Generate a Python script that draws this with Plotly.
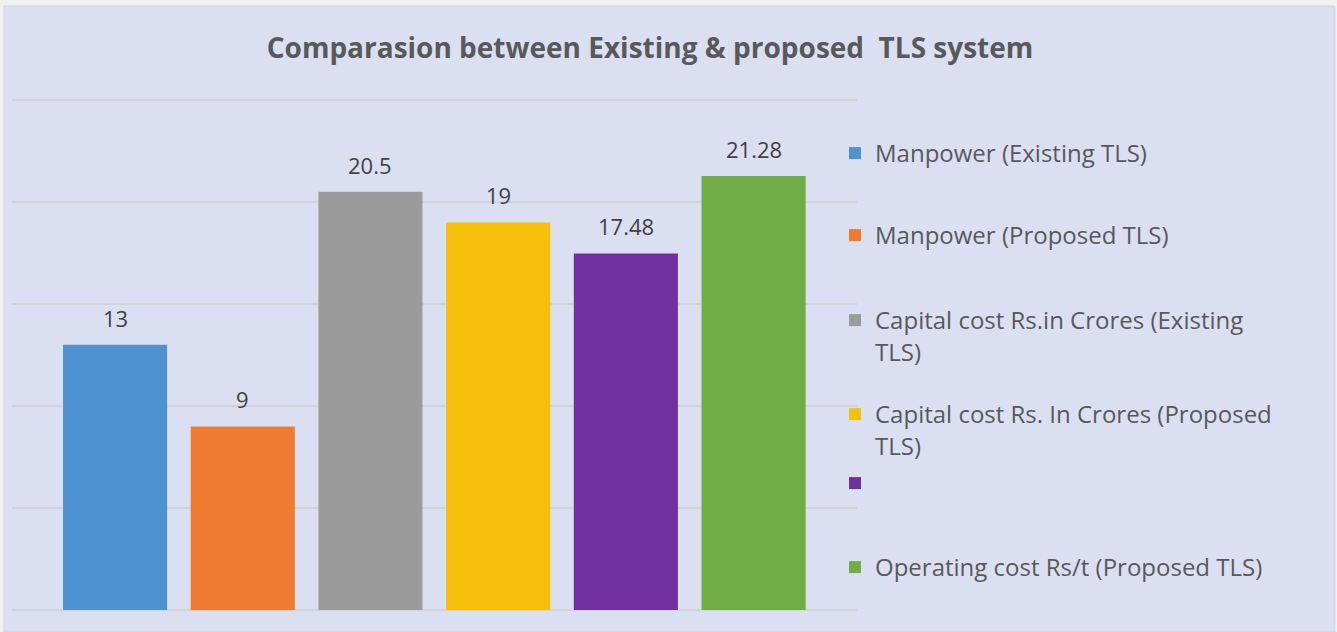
import plotly.graph_objects as go

# Series shown in the chart (one bar per series)
series_names = [
    "Manpower (Existing TLS)",
    "Manpower (Proposed TLS)",
    "Capital cost Rs.in Crores (Existing<br>TLS)",
    "Capital cost Rs. In Crores (Proposed<br>TLS)",
    "",
    "Operating cost Rs/t (Proposed TLS)",
]
series_values = [13, 9, 20.5, 19, 17.48, 21.28]
series_colors = ["#4f92d0", "#ee7b30", "#9b9b9b", "#f6bf0a", "#7030a0", "#70ad47"]
value_labels = ["13", "9", "20.5", "19", "17.48", "21.28"]

title_text = "Comparasion between Existing & proposed  TLS system"

W, H = 1337, 632
ML, MR, MT, MB = 12, 480, 98, 22
PW, PH = W - ML - MR, H - MT - MB
Y_MAX = 25.1  # a little headroom so the top gridline (25) is kept

BG = "#dae0f2"
GRID = "#d3d3d6"
FONT = "Open Sans"


def px_x(px):
    """Pixel x -> paper x (plot-area relative)."""
    return (px - ML) / PW


def px_y(py):
    """Pixel y (from top) -> paper y (plot-area relative)."""
    return (H - MB - py) / PH


# Legend placement: each series gets its own legend box so entries can be
# spaced like the original layout
legend_tops = [131, 213, 298, 392, 461, 545]

fig = go.Figure()
for i, (name, val, col) in enumerate(zip(series_names, series_values, series_colors)):
    lg = "legend" if i == 0 else f"legend{i + 1}"
    fig.add_trace(go.Bar(
        x=[i],
        y=[val],
        name=name,
        marker=dict(color=col, line=dict(width=0)),
        width=0.815,
        legend=lg,
        showlegend=True,
        hoverinfo="skip",
    ))
    fig.add_annotation(
        x=i, y=val, text=value_labels[i],
        showarrow=False, yanchor="middle", yshift=27,
        font=dict(family=FONT, size=22, color="#404040"),
    )

legend_common = dict(
    font=dict(family=FONT, size=24, color="#595959"),
    bgcolor="rgba(0,0,0,0)",
    borderwidth=0,
    xanchor="left",
    yanchor="top",
    valign="top",
    itemclick=False,
    itemdoubleclick=False,
)
layout_legends = {}
for i, top in enumerate(legend_tops):
    key = "legend" if i == 0 else f"legend{i + 1}"
    layout_legends[key] = dict(legend_common, x=px_x(835), y=px_y(top))

fig.update_layout(
    width=W, height=H,
    margin=dict(l=ML, r=MR, t=MT, b=MB, pad=0),
    paper_bgcolor="#f1f1f1",
    plot_bgcolor=BG,
    barmode="overlay",
    title=dict(
        text=title_text,
        x=650 / W, xanchor="center",
        y=1 - 48 / H, yanchor="middle",
        font=dict(family=FONT, size=28, color="#595959", weight="bold"),
    ),
    xaxis=dict(
        range=[-0.807, 5.81],
        showticklabels=False, showgrid=False, zeroline=False,
        showline=False, ticks="", fixedrange=True,
    ),
    yaxis=dict(
        range=[0, Y_MAX], dtick=5, tick0=0,
        showticklabels=False, showgrid=True, gridcolor=GRID, gridwidth=1.5,
        zeroline=True, zerolinecolor=GRID, zerolinewidth=1.5,
        showline=False, ticks="", fixedrange=True,
    ),
    shapes=[
        dict(
            type="rect", xref="paper", yref="paper", layer="below",
            x0=px_x(4), x1=px_x(1335), y0=px_y(H), y1=px_y(6),
            fillcolor=BG, line=dict(color="#d2d5dd", width=1),
        )
    ],
    **layout_legends,
)

fig.write_html("out.html", config={"displayModeBar": False})
